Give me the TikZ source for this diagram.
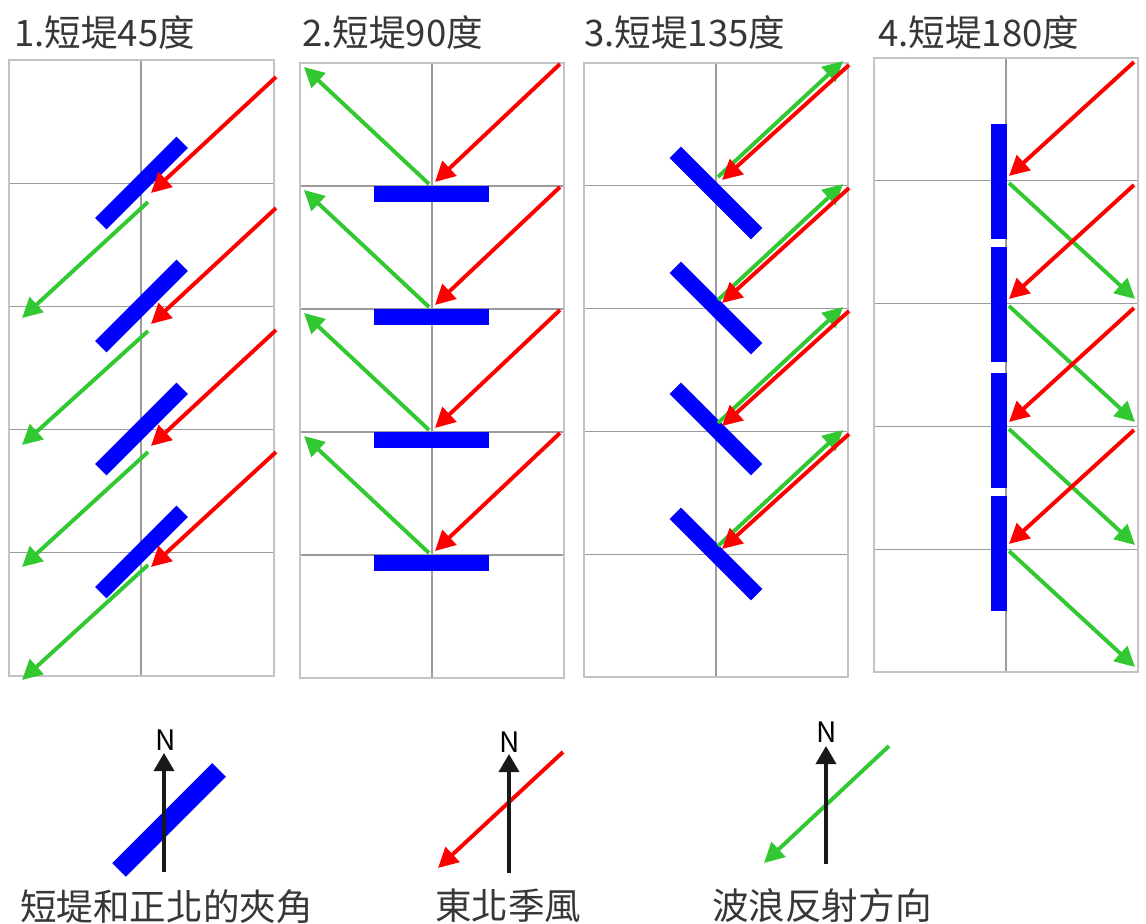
\documentclass[tikz,border=0pt]{standalone}
\usepackage{fontspec}
\setmainfont{Noto Sans CJK TC}
\usepackage{tikz}
\usetikzlibrary{arrows.meta,positioning}
\definecolor{jettyblue}{RGB}{0,0,255}
\definecolor{windred}{RGB}{255,0,0}
\definecolor{wavegreen}{RGB}{50,200,50}
\definecolor{gridgray}{RGB}{155,155,155}
\definecolor{framegray}{RGB}{195,195,195}
\definecolor{textgray}{RGB}{55,55,55}

\begin{document}
\begin{tikzpicture}[x=0.025cm, y=-0.025cm,
  wind/.style={draw=windred, line width=2.8pt,
    -{Triangle[length=0.5cm,width=0.5cm]}},
  wave/.style={draw=wavegreen, line width=2.8pt,
    -{Triangle[length=0.5cm,width=0.5cm]}},
  north/.style={draw=black!90, line width=2.6pt,
    -{Triangle[length=0.45cm,width=0.5cm]}},
  jetty/.style={draw=jettyblue, line width=0.4cm},
  cell/.style={draw=gridgray, line width=0.9pt},
  frame/.style={draw=framegray, line width=1.2pt},
  title/.style={anchor=west, inner sep=0pt, text=textgray,
    font=\fontsize{26}{30}\selectfont},
  nlabel/.style={inner sep=0pt, text=black, font=\fontsize{20}{24}\selectfont}]
  \useasboundingbox (0,0) rectangle (1146,924);

  % titles
  \foreach \x/\n/\s in {14/1/45,302/2/90,584/3/135,878/4/180}
    \node[title] (t\n) at (\x,33) {{\n}.短堤{\s}度};

  % grids
  \foreach \xa/\xm/\xb/\ya/\yb in {9/141/274/60/676,300/432/564/63/678,
                                    584/716/848/63/677,874/1006/1138/58/672}{
    \foreach \k in {1,...,4}
      \draw[cell] (\xa,{\ya+\k*(\yb-\ya)/5}) -- (\xb,{\ya+\k*(\yb-\ya)/5});
    \draw[cell] (\xm,\ya) -- (\xm,\yb);
    \draw[frame] (\xa,\ya) rectangle (\xb,\yb);
  }

  % 1. 45 degrees
  \foreach \l in {183,306,429,552}
    \draw[jetty] (100.8,\l+40.7) -- (182.2,\l-40.7);
  \foreach \s/\t in {77/193,208/324,330/446,452/567}
    \draw[wind] (276,\s) -- (151,\t);
  \foreach \s/\t in {202/318,331/445,452/567,565/680}
    \draw[wave] (148,\s) -- (22,\t);

  % 2. 90 degrees
  \foreach \l in {185,308,431,554}{
    \draw[jetty] (374,\l+9) -- (489,\l+9);
    \draw[wind] (560,\l-121) -- (435,\l-3);
    \draw[wave] (429,\l-1) -- (304,\l-118);
  }

  % 3. 135 degrees
  \foreach \c in {193,308,429,554}
    \draw[jetty] (675.3,\c-40.7) -- (756.7,\c+40.7);
  \foreach \l in {185,308,431,554}{
    \draw[wave] (718,\l-8) -- (843,\l-124);
    \draw[wind] (849,\l-120) -- (722,\l-5);
  }

  % 4. 180 degrees
  \foreach \a/\b in {124/239,247/362,373/488,496/611}
    \draw[jetty] (999,\a) -- (999,\b);
  \foreach \l in {181,304,427,549}{
    \draw[wind] (1134,\l-119) -- (1009,\l-5);
    \draw[wave] (1009,\l+2) -- (1135,\l+118);
  }

  % legend
  \draw[jetty, line width=0.48cm] (119,870) -- (219,770);
  \node[nlabel] (n1) at (166,740) {N};
  \coordinate (n1base) at (164,872);
  \coordinate (n1tip) at (164,753);
  \draw[north] (n1base) -- (n1tip);
  \node[title] (lg1) at (20,907) {短堤和正北的夾角};

  \draw[wind] (563,752) -- (438,868);
  \node[nlabel] (n2) at (510,742) {N};
  \coordinate (n2base) at (509,873);
  \coordinate (n2tip) at (509,754);
  \draw[north] (n2base) -- (n2tip);
  \node[title] (lg2) at (435,906) {東北季風};

  \draw[wave] (889,746) -- (764,863);
  \node[nlabel] (n3) at (827,732) {N};
  \coordinate (n3base) at (826,864);
  \coordinate (n3tip) at (826,746);
  \draw[north] (n3base) -- (n3tip);
  \node[title] (lg3) at (712,906) {波浪反射方向};
\end{tikzpicture}
\end{document}
